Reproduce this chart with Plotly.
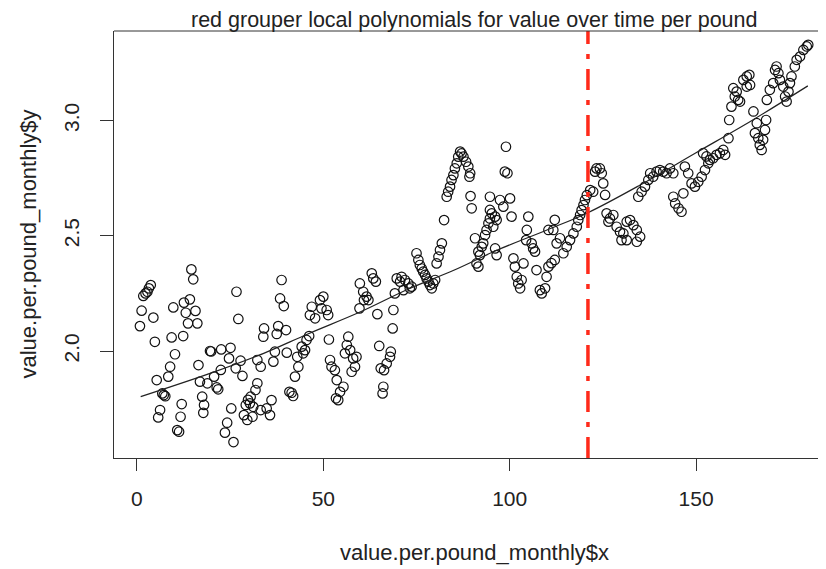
import plotly.graph_objects as go

# ---- data ----
month = [
    3.7, 3.2, 2.3, 1.7, 2.8, 1.25, 0.8, 4.4, 4.8, 9.3, 12.4,
    9.75, 12.6, 14.2, 13.1, 15.7, 13.7, 16.2, 14.6, 15.1, 26.7, 27.2,
    10.2, 8.9, 8.4, 5.3, 6.8, 7.2, 7.6,
    16.5, 16.9, 19.6, 19.9, 22.6, 25.1, 24.7, 27.8, 26.5, 28.3, 20.7, 22.5,
    21.4, 21.8, 18.9, 17.5, 18.0, 17.8, 12.0, 11.7, 6.2, 5.7, 10.8, 11.3,
    25.3, 24.2, 23.6, 25.9, 29.2, 30.3, 31.2, 28.7, 29.6, 31.0,
    32.3, 31.8, 30.5, 29.8, 32.3, 33.2, 33.2,
    34.1, 33.9, 37.9, 37.5, 40.0, 38.8, 38.4, 39.4, 37.0, 40.2, 36.6,
    43.0, 43.3, 42.4, 44.2, 44.6, 45.1, 45.5, 46.2, 41.5, 41.9, 40.9,
    36.1, 34.8, 35.7, 46.9, 46.4, 47.8, 49.1, 50.0, 50.9, 51.3, 49.5, 51.5,
    51.8, 52.2, 53.1, 53.6, 53.4, 54.0, 54.5, 55.4,
    56.7, 56.3, 55.8, 57.2, 58.0, 58.9, 58.5, 57.6, 59.7,
    59.8, 60.7, 61.6, 62.1, 60.9, 63.0, 63.4, 64.1, 64.5, 65.0,
    65.4, 66.3, 67.0, 67.9, 68.1, 66.1, 65.9, 68.8, 68.6, 69.7, 70.6, 69.2,
    71.0, 71.9, 72.8, 73.7, 71.5, 73.2,
    75.0, 75.5, 75.9, 76.4, 76.8, 77.3, 77.7, 78.2, 78.6, 79.1, 79.5, 80.0,
    80.4, 80.9, 81.3, 81.8, 82.4,
    83.1, 83.5, 84.0, 84.4, 84.9, 85.3, 85.8, 86.2, 86.7, 87.1, 87.6, 88.3, 88.9, 89.4, 89.2,
    89.5, 89.8,
    90.7, 91.6, 91.1, 92.0, 92.5, 92.9, 93.4, 93.8, 94.3, 94.7, 95.2, 94.7, 96.1, 96.5, 95.6,
    94.7, 97.4, 98.3, 100.1, 100.5, 96.1, 96.5, 91.6, 99.0, 98.7, 99.4,
    101.0, 101.4, 101.9, 102.3, 102.8, 103.2, 103.7, 104.6, 105.0, 104.4, 105.9, 106.3, 106.8,
    107.2, 108.1, 108.6, 109.5, 109.9, 110.4, 110.4,
    111.2, 112.1, 111.7, 112.1, 112.6,
    113.5, 114.4, 115.3, 116.2, 117.1, 118.0, 118.4, 118.9, 119.3, 119.8, 120.2, 120.7, 121.6, 122.4,
    122.9, 123.3, 124.2, 124.7, 125.1, 125.6,
    126.0, 126.9, 127.8, 126.5, 128.7, 129.6, 130.5, 131.4, 132.3, 133.2, 134.1, 135.0, 134.1, 131.4, 130.0,
    134.5, 135.4, 136.3, 137.2, 137.7, 138.5, 139.4, 140.3, 141.2, 142.1, 143.0, 143.9,
    143.9, 144.4, 145.3, 146.1, 146.6,
    147.0, 147.9, 148.8, 149.7, 150.6, 151.5, 152.4, 153.3,
    151.9, 152.8, 153.7, 154.6, 155.5,
    156.4, 157.3, 157.8, 158.7, 158.9, 159.5, 160.4, 160.0, 160.9, 161.3, 161.8, 162.7, 163.6, 164.3,
    164.5, 163.6, 165.4, 166.3, 165.8, 166.7, 167.1, 167.6, 168.0, 168.5, 168.8, 169.0, 169.8, 170.7,
    171.2, 171.6, 172.1, 172.5, 173.4, 173.9, 174.3, 174.8, 175.2, 175.6, 176.5, 177.0, 177.9, 178.8,
    179.7, 180.1,
]
value_per_pound = [
    2.286, 2.272, 2.250, 2.239, 2.257, 2.175, 2.108, 2.145, 2.040, 2.059, 2.065,
    2.189, 2.210, 2.224, 2.166, 2.174, 2.120, 2.120, 2.354, 2.311, 2.257, 2.139,
    1.986, 1.932, 1.889, 1.874, 1.816, 1.809, 1.804,
    1.939, 1.867, 2.000, 1.998, 2.007, 2.014, 1.968, 1.958, 1.925, 1.892, 1.889, 1.918,
    1.842, 1.834, 1.860, 1.802, 1.766, 1.732, 1.770, 1.715, 1.744, 1.712, 1.657, 1.650,
    1.751, 1.689, 1.646, 1.605, 1.766, 1.773, 1.758, 1.722, 1.701, 1.715,
    1.860, 1.831, 1.802, 1.788, 1.961, 1.932, 1.744,
    2.098, 2.062, 2.108, 2.074, 2.091, 2.308, 2.228, 2.195, 1.997, 1.993, 1.954,
    1.975, 1.932, 1.889, 2.019, 1.990, 2.004, 2.048, 2.065, 1.819, 1.805, 1.823,
    1.787, 1.751, 1.722, 2.192, 2.156, 2.142, 2.221, 2.236, 2.178, 2.156, 2.185, 2.050,
    1.961, 1.932, 1.917, 1.874, 1.795, 1.787, 1.823, 1.845,
    2.062, 2.026, 1.990, 2.004, 1.968, 1.975, 1.932, 1.910, 2.185,
    2.293, 2.257, 2.236, 2.221, 2.221, 2.337, 2.315, 2.301, 2.160, 2.022,
    1.925, 1.917, 1.946, 1.975, 1.997, 1.845, 1.816, 2.178, 2.098, 2.315, 2.301, 2.250,
    2.322, 2.308, 2.293, 2.279, 2.264, 2.272,
    2.424, 2.395, 2.373, 2.358, 2.344, 2.330, 2.315, 2.301, 2.286, 2.272, 2.293, 2.308,
    2.380, 2.409, 2.438, 2.467, 2.568,
    2.669, 2.691, 2.713, 2.742, 2.763, 2.792, 2.814, 2.843, 2.865, 2.857, 2.843, 2.821, 2.800, 2.771, 2.756,
    2.672, 2.619,
    2.489, 2.431, 2.380, 2.416, 2.452, 2.467, 2.503, 2.525, 2.554, 2.575, 2.597, 2.612, 2.583, 2.568, 2.539,
    2.669, 2.655, 2.626, 2.662, 2.583, 2.445, 2.416, 2.366, 2.886, 2.778, 2.771,
    2.402, 2.366, 2.322, 2.293, 2.272, 2.308, 2.380, 2.525, 2.583, 2.481, 2.467, 2.445, 2.431,
    2.351, 2.264, 2.250, 2.272, 2.322, 2.366, 2.525,
    2.381, 2.395, 2.525, 2.569, 2.467,
    2.489, 2.424, 2.452, 2.481, 2.510, 2.539, 2.568, 2.590, 2.611, 2.633, 2.655, 2.676, 2.698, 2.691,
    2.778, 2.792, 2.792, 2.771, 2.727, 2.677,
    2.597, 2.575, 2.590, 2.561, 2.539, 2.517, 2.510, 2.561, 2.568, 2.546, 2.525, 2.496, 2.474, 2.481, 2.481,
    2.669, 2.691, 2.713, 2.742, 2.771, 2.756, 2.778, 2.785, 2.778, 2.771, 2.792, 2.771,
    2.669, 2.640, 2.619, 2.604, 2.684,
    2.800, 2.771, 2.727, 2.713, 2.734, 2.756, 2.785, 2.814,
    2.858, 2.844, 2.829, 2.836, 2.851,
    2.858, 2.872, 2.851, 2.923, 3.002, 3.060, 3.104, 3.140, 3.125, 3.089, 3.082, 3.176, 3.191, 3.198,
    3.154, 3.147, 3.039, 2.988, 2.945, 2.923, 2.894, 2.872, 2.916, 2.959, 3.002, 3.089, 3.133, 3.162,
    3.219, 3.234, 3.205, 3.176, 3.147, 3.104, 3.082, 3.125, 3.162, 3.191, 3.234, 3.263, 3.277, 3.306,
    3.321, 3.328,
]

# local polynomial (loess) fit
smooth_x = [1, 20, 34, 46, 60, 73, 85, 97, 110, 121, 135, 150, 165, 180]
smooth_y = [1.802, 1.905, 1.99, 2.075, 2.17, 2.27, 2.35, 2.44, 2.525, 2.60, 2.72, 2.86, 3.00, 3.15]

cutoff_month = 121

x_ticks = [0, 50, 100, 150]
y_ticks = [2.0, 2.5, 3.0]
y_tick_labels = ["2.0", "2.5", "3.0"]

title_text = "red grouper local polynomials for value over time per pound"
x_title = "value.per.pound_monthly$x"
y_title = "value.per.pound_monthly$y"

FONT = "Liberation Sans, Arial, sans-serif"
AX = "#333333"

fig = go.Figure()
fig.add_trace(go.Scatter(
    x=month, y=value_per_pound, mode="markers",
    marker=dict(symbol="circle-open", size=9.5, color="#111111", line=dict(width=1.2)),
    showlegend=False, hoverinfo="skip",
))
fig.add_trace(go.Scatter(
    x=smooth_x, y=smooth_y, mode="lines", line=dict(color="#222222", width=1.2, shape="spline"),
    showlegend=False, hoverinfo="skip",
))

# vertical cutoff line (abline)
fig.add_shape(type="line", xref="x", yref="paper", x0=cutoff_month, x1=cutoff_month, y0=0, y1=1,
              line=dict(color="#ff2a1a", width=3.5, dash="21px,10px,5px,10px"))
# top border of the box
fig.add_shape(type="line", xref="paper", yref="paper", x0=0, x1=1, y0=1, y1=1,
              line=dict(color=AX, width=1))

# the page adds an 8px body margin, so the figure is 8px smaller and shifted
OFF = 8
W, H = 826 - OFF, 569 - OFF
L, T = 114 - OFF, 31 - OFF
R = 1
B = H - (458 - OFF)
pw = W - L - R
ph = H - T - B


def px_x(p):
    return (p - OFF - L) / pw


def px_y(p):
    return (H - B - (p - OFF)) / ph


fig.update_layout(
    width=W, height=H,
    margin=dict(l=L, r=R, t=T, b=B, pad=0),
    paper_bgcolor="white", plot_bgcolor="white",
    font=dict(family=FONT, color="#222222"),
    xaxis=dict(range=[-6.16, 184.6], showgrid=False, zeroline=False,
               showline=True, linecolor=AX, linewidth=1,
               ticks="outside", ticklen=12, tickcolor=AX, tickwidth=1,
               tickvals=x_ticks, tickfont=dict(size=21, family=FONT, color="#222222"),
               ticklabelstandoff=10),
    yaxis=dict(range=[1.536, 3.388], showgrid=False, zeroline=False,
               showline=True, linecolor=AX, linewidth=1,
               ticks="outside", ticklen=13, tickcolor=AX, tickwidth=1,
               tickvals=y_ticks, ticktext=y_tick_labels, tickangle=-90,
               tickfont=dict(size=21, family=FONT, color="#222222"),
               ticklabelstandoff=13),
    annotations=[
        dict(text=title_text, xref="paper", yref="paper", x=px_x(474), y=px_y(20),
             xanchor="center", yanchor="middle", showarrow=False, borderpad=0,
             font=dict(size=21.5, family=FONT, color="#222222")),
        dict(text=x_title, xref="paper", yref="paper", x=px_x(474), y=px_y(552),
             xanchor="center", yanchor="middle", showarrow=False,
             font=dict(size=22, family=FONT, color="#222222")),
        dict(text=y_title, xref="paper", yref="paper", x=px_x(28), y=px_y(244.5),
             xanchor="center", yanchor="middle", showarrow=False, textangle=-90,
             font=dict(size=22, family=FONT, color="#222222")),
    ],
)

fig.write_html("out.html")
